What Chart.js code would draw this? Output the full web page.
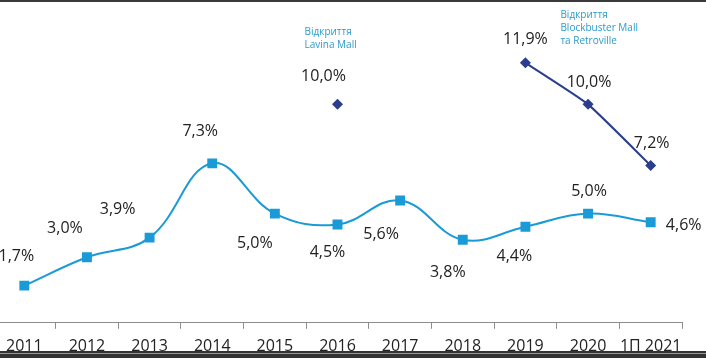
<!DOCTYPE html>
<html>
<head>
<meta charset="utf-8">
<script src="https://cdn.jsdelivr.net/npm/chart.js@4"></script>
<style>
  html, body { margin: 0; padding: 0; background: #fff; overflow: hidden; }
  #wrap { position: relative; width: 706px; height: 358px; overflow: hidden; }
  #wrap canvas { position: absolute; left: -14px; top: 0; }
  .topline { position: absolute; left: 0; top: 0; width: 706px; height: 2px; background: #3a3a3a; }
  .botline1 { position: absolute; left: 0; top: 351px; width: 706px; height: 2px; background: #333; }
  .botgap { position: absolute; left: 0; top: 353px; width: 706px; height: 1px; background: #999; }
  .botline2 { position: absolute; left: 0; top: 354px; width: 706px; height: 4px; background: #333; }
</style>
</head>
<body>
<div id="wrap">
  <canvas id="growthChart" width="720" height="368"></canvas>
  <div class="topline"></div>
  <div class="botline1"></div>
  <div class="botgap"></div>
  <div class="botline2"></div>
</div>
<script>
var years = ['2011', '2012', '2013', '2014', '2015', '2016', '2017', '2018', '2019', '2020', '1П 2021'];
var baseRate = [1.7, 3.0, 3.9, 7.3, 5.0, 4.5, 5.6, 3.8, 4.4, 5.0, 4.6];
var mallRate = [null, null, null, null, null, 10.0, null, null, 11.9, 10.0, 7.2];

// where each value label sits relative to its point
var baseOffsets = [[-8, -29], [-22, -29], [-32, -28], [-12, -32], [-20, 30], [-10, 28],
                   [-19, 34], [-15, 33], [-11, 30], [1, -22], [33, 3]];
var mallOffsets = {5: [-14, -28], 8: [0, -23], 9: [1, -22], 10: [1, -22]};

var notes = [
  {index: 5, dx: -33, lines: ['Відкриття', 'Lavina Mall'], top: 32},
  {index: 8, dx: 35, lines: ['Відкриття', 'Blockbuster Mall', 'та Retroville'], top: 15}
];

function fmt(v) {
  return v.toFixed(1).replace('.', ',') + '%';
}

var labelPlugin = {
  id: 'valueLabels',
  afterDatasetsDraw: function(chart) {
    var c = chart.ctx;
    c.save();
    c.font = '16px "Open Sans"';
    c.fillStyle = '#222';
    c.textAlign = 'center';
    c.textBaseline = 'middle';
    chart.getDatasetMeta(0).data.forEach(function(pt, i) {
      var o = baseOffsets[i];
      c.fillText(fmt(baseRate[i]), pt.x + o[0], pt.y + o[1]);
    });
    chart.getDatasetMeta(1).data.forEach(function(pt, i) {
      if (mallRate[i] === null) return;
      var o = mallOffsets[i];
      c.fillText(fmt(mallRate[i]), pt.x + o[0], pt.y + o[1]);
    });
    c.font = '10px "Open Sans"';
    c.fillStyle = '#2b9bcb';
    c.textAlign = 'left';
    var xs = chart.scales.x;
    notes.forEach(function(n) {
      var x = xs.getPixelForValue(n.index) + n.dx;
      n.lines.forEach(function(t, k) {
        c.fillText(t, x, n.top + k * 13);
      });
    });
    c.restore();
  }
};

var ctx = document.getElementById('growthChart');
var chart = new Chart(ctx, {
  type: 'line',
  data: {
    labels: years,
    datasets: [{
      data: baseRate,
      borderColor: '#1a9ad6',
      backgroundColor: '#1a9ad6',
      borderWidth: 2,
      tension: 0.4,
      pointStyle: 'rect',
      pointRadius: 7,
      pointHoverRadius: 7,
      pointBorderWidth: 0
    }, {
      data: mallRate,
      borderColor: '#2b3d8c',
      backgroundColor: '#2b3d8c',
      borderWidth: 2,
      tension: 0.15,
      spanGaps: false,
      pointStyle: 'rectRot',
      pointRadius: 5.5,
      pointHoverRadius: 5.5,
      pointBorderWidth: 0
    }]
  },
  options: {
    responsive: false,
    animation: false,
    layout: { padding: { top: 17, right: 24, bottom: 4, left: 0 } },
    plugins: {
      legend: { display: false },
      tooltip: { enabled: false }
    },
    scales: {
      x: {
        offset: true,
        border: { display: true, color: '#8c8c8c', width: 1 },
        grid: { offset: true, drawOnChartArea: false, drawTicks: true, tickLength: 6, color: '#8c8c8c' },
        ticks: { color: '#222', font: { family: 'Open Sans', size: 16 }, padding: 8, maxRotation: 0, autoSkip: false }
      },
      y: {
        display: false,
        min: 0,
        max: 14
      }
    }
  },
  plugins: [labelPlugin]
});
</script>
</body>
</html>
